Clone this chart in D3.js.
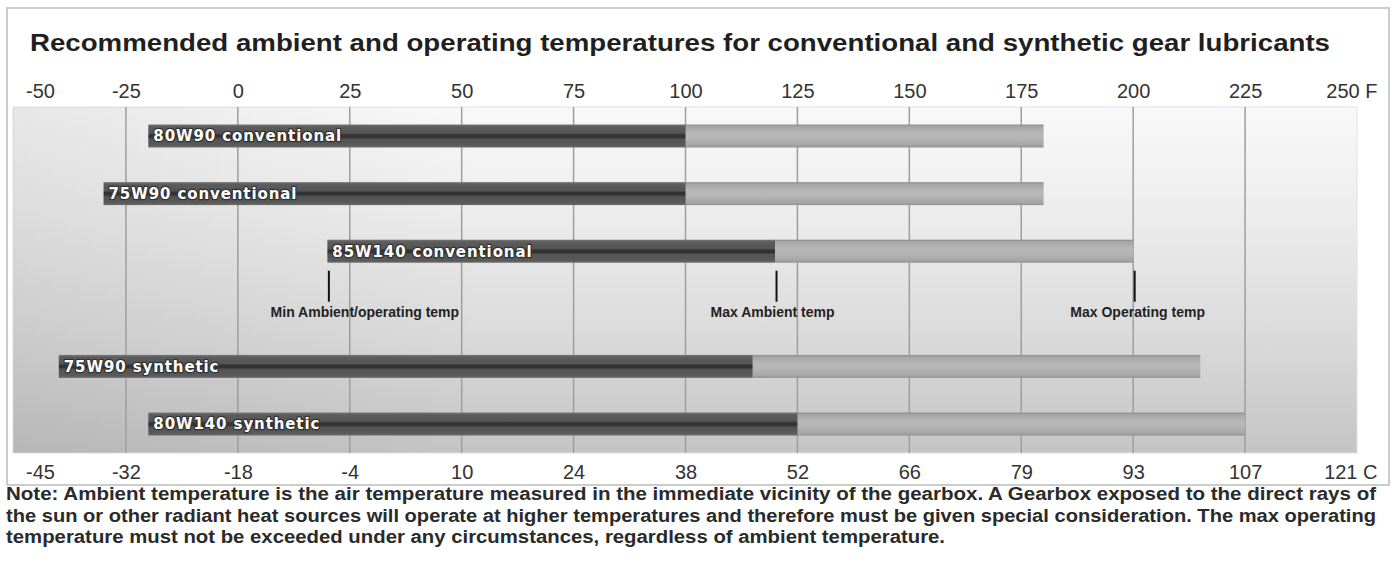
<!DOCTYPE html>
<html>
<head>
<meta charset="utf-8">
<script src="https://cdn.jsdelivr.net/npm/d3@7"></script>
<style>
  html, body { margin: 0; padding: 0; background: #ffffff; }
  svg { display: block; }
</style>
</head>
<body>
<div id="chart"></div>
<script>
// ---------- data ----------
const categories   = ["80W90 conventional", "75W90 conventional", "85W140 conventional", "75W90 synthetic", "80W140 synthetic"];
const minTemp      = [-20, -30, 20, -40, -20];     // F, min ambient / operating
const maxAmbient   = [100, 100, 120, 115, 125];    // F
const maxOperating = [180, 180, 200, 215, 225];    // F

const fTicks  = [-50, -25, 0, 25, 50, 75, 100, 125, 150, 175, 200, 225, 250];
const fLabels = ["-50", "-25", "0", "25", "50", "75", "100", "125", "150", "175", "200", "225", "250 F"];
const cLabels = ["-45", "-32", "-18", "-4", "10", "24", "38", "52", "66", "79", "93", "107", "121 C"];

const annotatedCategory = "85W140 conventional";
const annotationLabels  = ["Min Ambient/operating temp", "Max Ambient temp", "Max Operating temp"];

const titleText = "Recommended ambient and operating temperatures for conventional and synthetic gear lubricants";
const noteLines = [
  "Note: Ambient temperature is the air temperature measured in the immediate vicinity of the gearbox. A Gearbox exposed to the direct rays of",
  "the sun or other radiant heat sources will operate at higher temperatures and therefore must be given special consideration. The max operating",
  "temperature must not be exceeded under any circumstances, regardless of ambient temperature."
];

// ---------- layout ----------
const W = 1394, H = 566;
const plot = { left: 14, right: 1357, top: 107, bottom: 453 };
const barH = 23;
const sansBold = "'Liberation Sans', Arial, Helvetica, sans-serif";

const svg = d3.select("#chart").append("svg").attr("width", W).attr("height", H);
const defs = svg.append("defs");

function grad(id, stops) {
  const g = defs.append("linearGradient").attr("id", id)
    .attr("x1", 0).attr("y1", 0).attr("x2", 0).attr("y2", 1);
  stops.forEach(s => g.append("stop").attr("offset", s[0]).attr("stop-color", s[1]));
}
grad("bgGrad",   [[0, "#f9f9f9"], [0.3, "#ededed"], [0.65, "#dbdbdb"], [1, "#c4c4c4"]]);
grad("darkGrad", [[0, "#777777"], [0.1, "#5c5c5c"], [0.38, "#555555"], [0.45, "#333333"], [0.56, "#333333"], [0.63, "#535353"], [0.9, "#5a5a5a"], [1, "#6c6c6c"]]);
grad("lightGrad",[[0, "#8e8e8e"], [0.1, "#a6a6a6"], [0.4, "#b8b8b8"], [0.6, "#b5b5b5"], [0.9, "#a5a5a5"], [1, "#909090"]]);
const hg = defs.append("linearGradient").attr("id", "sideShade")
  .attr("x1", 0).attr("y1", 0).attr("x2", 1).attr("y2", 0);
hg.append("stop").attr("offset", 0).attr("stop-color", "#000").attr("stop-opacity", 0.07);
hg.append("stop").attr("offset", 0.35).attr("stop-color", "#000").attr("stop-opacity", 0);
hg.append("stop").attr("offset", 1).attr("stop-color", "#000").attr("stop-opacity", 0);

// scales
const x = d3.scaleLinear().domain([fTicks[0], fTicks[fTicks.length - 1]]).range([plot.left, plot.right]);
const slots = [categories[0], categories[1], categories[2], "__annotations__", categories[3], categories[4]];
const y = d3.scalePoint().domain(slots).range([136, 424]);

// frame
svg.append("rect").attr("x", 7).attr("y", 8).attr("width", 1382).attr("height", 477)
  .attr("fill", "#ffffff").attr("stroke", "#cccccc").attr("stroke-width", 2);

// title
svg.append("text").attr("x", 30).attr("y", 51)
  .attr("font-family", sansBold).attr("font-weight", "bold").attr("font-size", 23)
  .attr("fill", "#1f1f1f").attr("textLength", 1300).attr("lengthAdjust", "spacingAndGlyphs")
  .text(titleText);

// plot background
svg.append("rect").attr("x", plot.left - 1).attr("y", plot.top)
  .attr("width", plot.right - plot.left + 1).attr("height", plot.bottom - plot.top)
  .attr("fill", "url(#bgGrad)").attr("stroke", "#e2e2e2").attr("stroke-width", 1);
svg.append("rect").attr("x", plot.left - 1).attr("y", plot.top)
  .attr("width", plot.right - plot.left + 1).attr("height", plot.bottom - plot.top)
  .attr("fill", "url(#sideShade)");

// grid lines
svg.append("g").selectAll("line").data(fTicks.slice(1, -1)).join("line")
  .attr("x1", d => x(d)).attr("x2", d => x(d))
  .attr("y1", plot.top).attr("y2", plot.bottom)
  .attr("stroke", "#9e9e9e").attr("stroke-width", 1.5);

// axes
function styleAxis(g) {
  g.attr("font-family", "'Liberation Sans', Arial, sans-serif").attr("font-size", 20).attr("color", "#333");
  g.select(".domain").remove();
  g.selectAll(".tick line").remove();
  g.selectAll(".tick text").attr("y", 0).attr("dy", 0);
  const n = fTicks.length;
  g.selectAll(".tick text").filter((d, i) => i === 0).attr("dx", 26);
  g.selectAll(".tick text").filter((d, i) => i === n - 1).attr("text-anchor", "end").attr("dx", 20);
}
svg.append("g").attr("transform", `translate(0,98)`)
  .call(d3.axisTop(x).tickValues(fTicks).tickFormat((d, i) => fLabels[i]).tickSize(0).tickPadding(0))
  .call(g => styleAxis(g));
svg.append("g").attr("transform", `translate(0,479)`)
  .call(d3.axisBottom(x).tickValues(fTicks).tickFormat((d, i) => cLabels[i]).tickSize(0).tickPadding(0))
  .call(g => styleAxis(g));

// bars
const rows = categories.map((c, i) => ({ name: c, min: minTemp[i], amb: maxAmbient[i], op: maxOperating[i] }));
const bars = svg.append("g").selectAll("g").data(rows).join("g");
bars.append("rect")
  .attr("x", d => x(d.amb)).attr("y", d => y(d.name) - barH / 2)
  .attr("width", d => x(d.op) - x(d.amb)).attr("height", barH)
  .attr("fill", "url(#lightGrad)");
bars.append("rect")
  .attr("x", d => x(d.min)).attr("y", d => y(d.name) - barH / 2)
  .attr("width", d => x(d.amb) - x(d.min)).attr("height", barH)
  .attr("fill", "url(#darkGrad)");
bars.append("text")
  .attr("x", d => x(d.min) + 5).attr("y", d => y(d.name)).attr("dy", "0.36em")
  .attr("font-family", "'DejaVu Sans', Verdana, sans-serif").attr("font-weight", "bold")
  .attr("font-size", 15).attr("letter-spacing", 0.9)
  .attr("fill", "#ffffff").attr("stroke", "#333").attr("stroke-width", 2.4)
  .attr("stroke-linejoin", "round").attr("paint-order", "stroke")
  .text(d => d.name);

// annotations
const ai = categories.indexOf(annotatedCategory);
const annVals = [minTemp[ai], maxAmbient[ai], maxOperating[ai]];
const annDx = [36, -4, 3];
const annY = y(annotatedCategory) + barH / 2;
const ann = svg.append("g").selectAll("g").data(annVals).join("g");
ann.append("line")
  .attr("x1", d => x(d) + 1.5).attr("x2", d => x(d) + 1.5)
  .attr("y1", annY + 8).attr("y2", annY + 39)
  .attr("stroke", "#111").attr("stroke-width", 2);
ann.append("text")
  .attr("x", (d, i) => x(d) + 1.5 + annDx[i]).attr("y", annY + 54)
  .attr("text-anchor", "middle")
  .attr("font-family", sansBold).attr("font-weight", "bold").attr("font-size", 14)
  .attr("fill", "#222")
  .text((d, i) => annotationLabels[i]);

// note
const noteLen = [1370, 1370, 939];
svg.append("g").selectAll("text").data(noteLines).join("text")
  .attr("x", 6).attr("y", (d, i) => 500 + i * 21.5)
  .attr("font-family", sansBold).attr("font-weight", "bold").attr("font-size", 18)
  .attr("fill", "#2a2a2a")
  .attr("textLength", (d, i) => noteLen[i]).attr("lengthAdjust", "spacingAndGlyphs")
  .text(d => d);
</script>
</body>
</html>
